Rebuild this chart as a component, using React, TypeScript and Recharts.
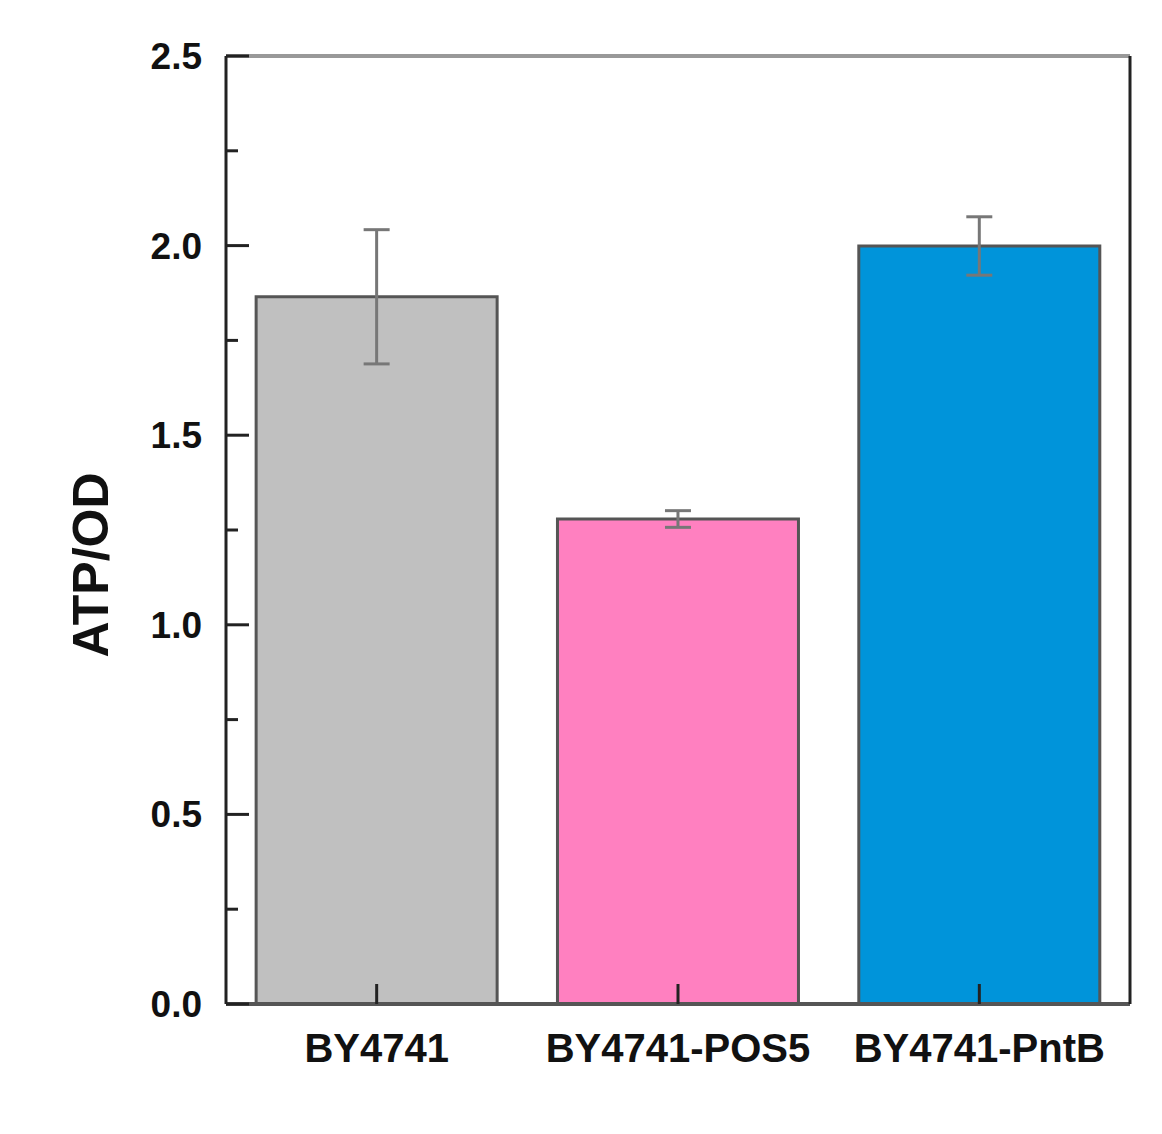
import { BarChart, Bar, XAxis, YAxis, ErrorBar, Cell, ReferenceLine } from "recharts"

const strains = ["BY4741", "BY4741-POS5", "BY4741-PntB"]
const atpPerOd = [1.865, 1.279, 1.999]
const atpErr = [0.177, 0.022, 0.077]
const barColors = ["#C0C0C0", "#FF80C0", "#0094DA"]
const yTicks = [0, 0.25, 0.5, 0.75, 1, 1.25, 1.5, 1.75, 2, 2.25, 2.5]

const FONT = "'Liberation Sans', Arial, sans-serif"

const data = strains.map((name, i) => ({ name, value: atpPerOd[i], err: atpErr[i] }))

// ticks point inward, so draw them ourselves next to the label
function YTick({ x, y, payload }: any) {
  const axisX = x + 24
  const major = Math.abs(payload.value * 2 - Math.round(payload.value * 2)) < 1e-6
  return (
    <g>
      <line x1={axisX} x2={axisX + (major ? 23 : 12)} y1={y} y2={y} stroke="#222" strokeWidth={3} />
      {major && (
        <text x={x} y={y} dy={13} textAnchor="end" fontFamily={FONT} fontWeight="bold" fontSize={37} fill="#111">
          {payload.value.toFixed(1)}
        </text>
      )}
    </g>
  )
}

function XTick({ x, y, payload }: any) {
  const axisY = y
  return (
    <g>
      <line x1={x} x2={x} y1={axisY} y2={axisY - 20} stroke="#222" strokeWidth={3} />
      <text x={x} y={axisY + 58} textAnchor="middle" fontFamily={FONT} fontWeight="bold" fontSize={40} fill="#111">
        {payload.value}
      </text>
    </g>
  )
}

export default function App() {
  return (
    <div style={{ position: "absolute", left: 0, top: 0, background: "#fff" }}>
      <BarChart
        width={1162}
        height={1134}
        data={data}
        margin={{ top: 56, right: 28, left: 0, bottom: 0 }}
        barCategoryGap="10%"
      >
        <XAxis
          dataKey="name"
          height={130}
          tickSize={0}
          tickMargin={0}
          tick={<XTick />}
          axisLine={{ stroke: "#555", strokeWidth: 4 }}
          interval={0}
        />
        <YAxis
          width={226}
          domain={[0, 2.5]}
          ticks={yTicks}
          interval={0}
          tickSize={0}
          tickMargin={24}
          tick={<YTick />}
          axisLine={{ stroke: "#222", strokeWidth: 3 }}
          label={{
            content: () => (
              <text
                x={108}
                y={565}
                transform="rotate(-90 108 565)"
                textAnchor="middle"
                fontFamily={FONT}
                fontWeight="bold"
                fontSize={50}
                fill="#111"
              >
                ATP/OD
              </text>
            ),
          }}
        />
        <YAxis
          yAxisId="frame"
          orientation="right"
          width={4}
          domain={[0, 2.5]}
          tick={false}
          tickLine={false}
          axisLine={{ stroke: "#222", strokeWidth: 3 }}
        />
        <ReferenceLine y={2.5} stroke="#999" strokeWidth={4} />
        <Bar dataKey="value" stroke="#555" strokeWidth={3} isAnimationActive={false}>
          {data.map((d, i) => (
            <Cell key={d.name} fill={barColors[i]} />
          ))}
          <ErrorBar dataKey="err" width={13} stroke="#777" strokeWidth={3} isAnimationActive={false} />
        </Bar>
      </BarChart>
    </div>
  )
}
